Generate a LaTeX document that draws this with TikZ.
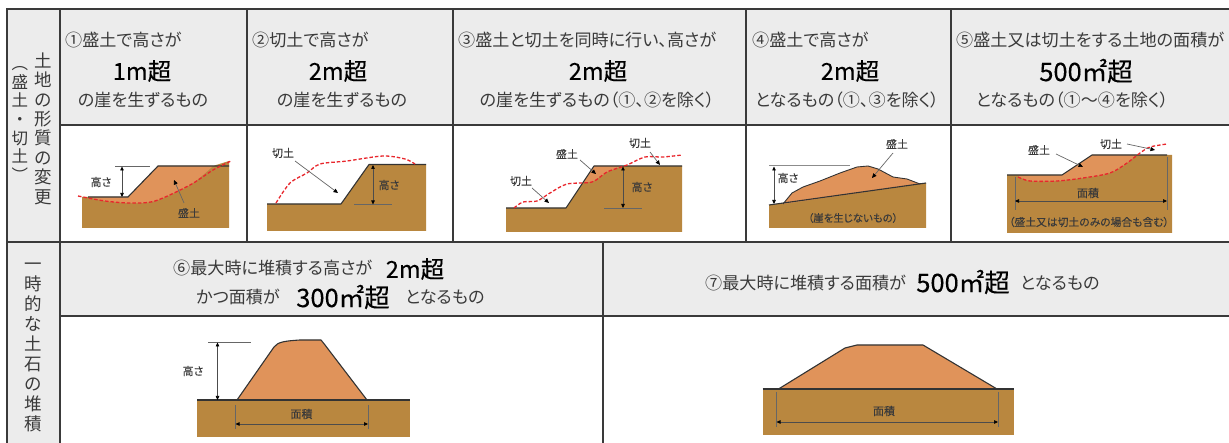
\documentclass[tikz,border=0pt]{standalone}
\usepackage{fontspec}
\usetikzlibrary{arrows.meta}
\setmainfont{Noto Sans CJK JP}[RawFeature=+palt]
\newfontfamily\heavyjp{Noto Sans CJK JP}[FakeBold=0.25]
\newfontfamily\labjp{Noto Sans CJK JP}[RawFeature=+palt,FakeBold=0.12]
\definecolor{cellgray}{HTML}{ECECEC}
\definecolor{gridline}{HTML}{3A3A3A}
\definecolor{soil}{HTML}{B9873F}
\definecolor{fillsoil}{HTML}{E0935A}
\definecolor{cutred}{HTML}{E8262C}
\definecolor{txt}{HTML}{3A3A3A}
\tikzset{
  x=1pt,y=-1pt,
  gridrule/.style={draw=gridline,line width=1.3pt},
  hdr/.style={inner sep=0pt,anchor=west,text=txt,font=\fontsize{17.1}{19}\selectfont},
  hdrc/.style={inner sep=0pt,anchor=center,text=txt,font=\fontsize{17.1}{19}\selectfont},
  big/.style={inner sep=0pt,anchor=center,text=black,font=\heavyjp\fontsize{23.5}{26}\selectfont},
  bigger/.style={big,font=\heavyjp\fontsize{25.5}{28}\selectfont},
  lab/.style={inner sep=0pt,anchor=center,text=txt,font=\labjp\fontsize{11}{13}\selectfont},
  side/.style={inner sep=0pt,anchor=center,align=center,text=txt},
  ground/.style={draw=black!80,line width=1.1pt,line join=round},
  cutline/.style={draw=cutred,line width=1.3pt,dash pattern=on 3.5pt off 2pt},
  leader/.style={draw=black!60,line width=.7pt,-{Triangle[length=4.5pt,width=4pt,fill=black,color=black]}},
  dim/.style={draw=black!70,line width=.7pt,{Triangle[length=4pt,width=3.5pt,fill=black,color=black]}-{Triangle[length=4pt,width=3.5pt,fill=black,color=black]}},
  tick/.style={draw=black!60,line width=.7pt},
}
\begin{document}
\begin{tikzpicture}
\useasboundingbox (0,0) rectangle (1229,443);
% cell fills
\fill[cellgray] (7,9) rectangle (1229,125);
\fill[cellgray] (7,125) rectangle (60,443);
\fill[cellgray] (60,242) rectangle (1229,316);
% grid
\draw[gridrule] (1229,9) -- (7,9) -- (7,443);
\draw[gridrule] (60,9) -- (60,443);
\draw[gridrule] (247,9) -- (247,242);
\draw[gridrule] (453,9) -- (453,242);
\draw[gridrule] (746,9) -- (746,242);
\draw[gridrule] (951,9) -- (951,242);
\draw[gridrule] (603,242) -- (603,443);
\draw[gridrule] (60,125) -- (1229,125);
\draw[gridrule] (7,242) -- (1229,242);
\draw[gridrule] (60,316) -- (1229,316);
% side text
\node[side,font=\fontsize{17.5}{19.4}\selectfont] (s1) at (43,128.5) {土\\地\\の\\形\\質\\の\\変\\更};
\node[side,font=\fontsize{16.5}{18.6}\selectfont] (s2) at (20,124) {︵\\盛\\土\\・\\切\\土\\︶};
\node[side,font=\fontsize{17.5}{20}\selectfont] (s3) at (33,347) {一\\時\\的\\な\\土\\石\\の\\堆\\積};
% headers row 1
\node[hdr] (h1a) at (65,40) {①盛土で高さが};
\node[big] (h1b) at (142,71) {1m超};
\node[hdrc] (h1c) at (143,100) {の崖を生ずるもの};
\node[hdr] (h2a) at (252,40) {②切土で高さが};
\node[big] (h2b) at (338,71) {2m超};
\node[hdrc] (h2c) at (342,100) {の崖を生ずるもの};
\node[hdr] (h3a) at (458,40) {③盛土と切土を同時に行い、高さが};
\node[big] (h3b) at (598,71) {2m超};
\node[hdrc] (h3c) at (597,100) {の崖を生ずるもの（①、②を除く）};
\node[hdr] (h4a) at (752,40) {④盛土で高さが};
\node[big] (h4b) at (850,71) {2m超};
\node[hdrc] (h4c) at (847,100) {となるもの（①、③を除く）};
\node[hdr] (h5a) at (956,40) {⑤盛土又は切土をする土地の面積が};
\node[bigger] (h5b) at (1086,71) {500㎡超};
\node[hdrc] (h5c) at (1072,100) {となるもの（①～④を除く）};
% headers row 2
\node[hdr] (h6a) at (173,268) {⑥最大時に堆積する高さが};
\node[big] (h6b) at (415,269) {2m超};
\node[hdr] (h6c) at (196,297) {かつ面積が};
\node[bigger] (h6d) at (343,297) {300㎡超};
\node[hdr] (h6e) at (405,297) {となるもの};
\node[hdr] (h7a) at (705,283) {⑦最大時に堆積する面積が};
\node[bigger] (h7b) at (963,282) {500㎡超};
\node[hdr] (h7c) at (1020,283) {となるもの};

% diagram 1
\fill[soil] (82,197) -- (128,197) -- (158,166) -- (213,166) -- (229,161) -- (229,228) -- (82,228) -- cycle;
\fill[fillsoil] plot[smooth] coordinates {(88,197) (105,201) (130,203) (155,201) (190,185) (213,166)} -- (158,166) -- (128,197) -- cycle;
\draw[ground] (88,197) -- (128,197) -- (158,166) -- (229,166);
\draw[cutline] plot[smooth] coordinates {(78,196) (105,201) (130,203) (155,201) (190,185) (213,170) (231,161)};
\coordinate (d1t) at (122,166.5); \coordinate (d1b) at (122,197);
\coordinate (d1l) at (115,166); \coordinate (d1r) at (150,166);
\draw[tick] (d1l) -- (d1r);
\draw[dim] (d1t) -- (d1b);
\node[lab] (d1h) at (101,182) {高さ};
\node[lab] (d1m) at (189,213) {盛土};
\coordinate (d1a) at (174,180); \coordinate (d1s) at (184,203);
\draw[leader] (d1s) -- (d1a);

% diagram 2
\fill[soil] (267,204) -- (341,204) -- (369,164.5) -- (426,164.5) -- (426,231) -- (267,231) -- cycle;
\draw[ground] (267,204) -- (341,204) -- (369,164.5) -- (426,164.5);
\draw[cutline] plot[smooth] coordinates {(276,203) (290,183) (307,173) (320,164) (347,161) (383,156) (405,159) (415,164)};
\coordinate (d2t) at (373,165); \coordinate (d2b) at (373,204.5);
\coordinate (d2l) at (354,204.5); \coordinate (d2r) at (392,204.5);
\draw[tick] (d2l) -- (d2r);
\draw[dim] (d2t) -- (d2b);
\node[lab] (d2h) at (389,185) {高さ};
\node[lab] (d2c) at (283,153) {切土};
\coordinate (d2a) at (338,193); \coordinate (d2s) at (295,161);
\draw[leader] (d2s) -- (d2a);

% diagram 3
\fill[soil] (506,208) -- (566,208) -- (594,166) -- (682,166) -- (682,232) -- (506,232) -- cycle;
\fill[fillsoil] (584,182) -- (594,166) -- (622,166) -- (607,172) -- (592,182) -- cycle;
\draw[ground] (506,208) -- (566,208) -- (594,166) -- (682,166);
\draw[cutline] plot[smooth] coordinates {(514,208) (523,202) (537,201) (550,193) (567,184) (592,182) (607,172) (627,165) (645,157) (663,157) (682,155)};
\coordinate (d3t) at (623,166.5); \coordinate (d3b) at (623,208);
\coordinate (d3l) at (604,208); \coordinate (d3r) at (642,208);
\draw[tick] (d3l) -- (d3r);
\draw[dim] (d3t) -- (d3b);
\node[lab] (d3h) at (642,187) {高さ};
\node[lab] (d3c) at (521,181) {切土};
\node[lab] (d3m) at (567,154) {盛土};
\node[lab] (d3k) at (640,143) {切土};
\coordinate (d3ca) at (549,203); \coordinate (d3cs) at (532,188);
\coordinate (d3ma) at (596,174); \coordinate (d3ms) at (580,160);
\coordinate (d3ka) at (660,165); \coordinate (d3ks) at (650,152);
\draw[leader] (d3cs) -- (d3ca);
\draw[leader] (d3ms) -- (d3ma);
\draw[leader] (d3ks) -- (d3ka);

% diagram 4
\fill[soil] (769,205) -- (926,183) -- (926,228) -- (769,228) -- cycle;
\fill[fillsoil] (783,204) -- (792,193) -- (803,187) -- (820,181) -- (840,173) -- (857,167) -- (868,166) -- (878,169) -- (893,177) -- (907,179) -- (920,184) -- cycle;
\draw[ground,line width=.9pt] (783,204) -- (792,193) -- (803,187) -- (820,181) -- (840,173) -- (857,167) -- (868,166) -- (878,169) -- (893,177) -- (907,179) -- (920,184);
\draw[ground] (769,205) -- (926,183);
\coordinate (d4l) at (769,166); \coordinate (d4r) at (850,166);
\coordinate (d4t) at (774,166.5); \coordinate (d4b) at (774,204);
\draw[tick,draw=black!45,line width=1pt] (d4l) -- (d4r);
\draw[dim] (d4t) -- (d4b);
\node[lab] (d4h) at (788,178) {高さ};
\node[lab] (d4m) at (897,144) {盛土};
\coordinate (d4a) at (872,178); \coordinate (d4s) at (893,153);
\draw[leader] (d4s) -- (d4a);
\node[lab,font=\labjp\fontsize{10.4}{12}\selectfont] (d4n) at (853,218) {（崖を生じないもの）};

% diagram 5
\fill[soil] (1007,175) -- (1062,175) -- (1092,155) -- (1137,155) -- (1172,155) -- (1172,233) -- (1007,233) -- cycle;
\fill[fillsoil] plot[smooth] coordinates {(1018,176) (1030,181) (1057,181) (1083,178) (1110,173) (1127,163) (1136,155)} -- (1092,155) -- (1062,175) -- cycle;
\draw[ground] (1007,175) -- (1062,175) -- (1092,155) -- (1167,155);
\draw[cutline] plot[smooth] coordinates {(1018,177) (1030,181) (1057,181) (1083,178) (1110,173) (1127,163) (1140,153) (1150,147) (1167,144)};
\coordinate (d5lt) at (1015,177); \coordinate (d5lb) at (1015,210);
\coordinate (d5rt) at (1167,157); \coordinate (d5rb) at (1167,210);
\coordinate (d5al) at (1015,201); \coordinate (d5ar) at (1167,201);
\draw[tick] (d5lt) -- (d5lb);
\draw[tick] (d5rt) -- (d5rb);
\draw[dim] (d5al) -- (d5ar);
\node[lab] (d5w) at (1088,193) {面積};
\node[lab,font=\labjp\fontsize{10.8}{12}\selectfont] (d5n) at (1089,222) {（盛土又は切土のみの場合も含む）};
\node[lab] (d5m) at (1039,150) {盛土};
\node[lab] (d5c) at (1111,144) {切土};
\coordinate (d5ma) at (1083,167); \coordinate (d5ms) at (1056,154);
\coordinate (d5ca) at (1155,150); \coordinate (d5cs) at (1127,144);
\draw[leader] (d5ms) -- (d5ma);
\draw[leader] (d5cs) -- (d5ca);

% diagram 6
\fill[soil] (197,400) rectangle (410,437);
\fill[fillsoil] (237,400) -- (274,347) .. controls (278,342) and (284,341) .. (300,340) -- (321,340) -- (325,345) -- (367,400) -- cycle;
\draw[ground] (237,400) -- (274,347) .. controls (278,342) and (284,341) .. (300,340) -- (321,340) -- (325,345) -- (367,400);
\draw[ground] (197,400) -- (410,400);
\coordinate (d6l) at (208,342); \coordinate (d6r) at (251,342);
\coordinate (d6t) at (217.5,342.5); \coordinate (d6b) at (217.5,400);
\draw[tick] (d6l) -- (d6r);
\draw[dim] (d6t) -- (d6b);
\node[lab] (d6h) at (193,371) {高さ};
\coordinate (d6lt) at (235.5,405); \coordinate (d6lb) at (235.5,429);
\coordinate (d6rt) at (368,405); \coordinate (d6rb) at (368,429);
\coordinate (d6al) at (235.5,424); \coordinate (d6ar) at (368,424);
\draw[tick] (d6lt) -- (d6lb);
\draw[tick] (d6rt) -- (d6rb);
\draw[dim] (d6al) -- (d6ar);
\node[lab] (d6w) at (301.5,414) {面積};

% diagram 7
\fill[soil] (762.5,389) rectangle (1014,435);
\fill[fillsoil] (778.5,389) -- (845,348) -- (857,345) -- (923,345) -- (997,389) -- cycle;
\draw[ground] (778.5,389) -- (845,348) -- (857,345) -- (923,345) -- (997,389);
\draw[ground] (762.5,389) -- (1014,389);
\coordinate (d7lt) at (776.5,392); \coordinate (d7lb) at (776.5,427);
\coordinate (d7rt) at (998,392); \coordinate (d7rb) at (998,427);
\coordinate (d7al) at (776.5,422); \coordinate (d7ar) at (998,422);
\draw[tick] (d7lt) -- (d7lb);
\draw[tick] (d7rt) -- (d7rb);
\draw[dim] (d7al) -- (d7ar);
\node[lab] (d7w) at (884,411) {面積};
\end{tikzpicture}
\end{document}
